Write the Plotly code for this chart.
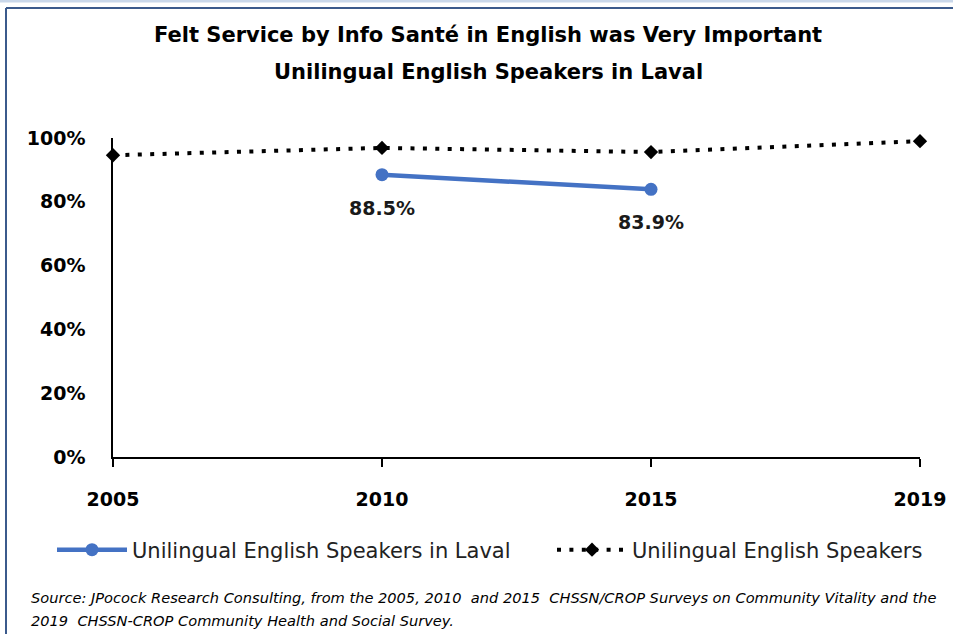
import plotly.graph_objects as go

years = ["2005", "2010", "2015", "2019"]
laval = [None, 88.5, 83.9, None]
all_speakers = [94.6, 96.9, 95.6, 99.0]
y_ticks = [0, 20, 40, 60, 80, 100]
y_tick_labels = ["0%", "20%", "40%", "60%", "80%", "100%"]

title_line1 = "Felt Service by Info Santé in English was Very Important"
title_line2 = "Unilingual English Speakers in Laval"
source_line1 = ("Source: JPocock Research Consulting, from the 2005, 2010  and 2015  CHSSN/CROP Surveys "
                "on Community Vitality and the")
source_line2 = "2019  CHSSN-CROP Community Health and Social Survey."

FONT = "DejaVu Sans"
W, H = 953, 634
L, R, T, B = 113, 33, 138, 177
PW, PH = W - L - R, H - T - B

def px_x(px):
    return (px - L) / PW

def px_y(py):
    return (H - B - py) / PH

xidx = list(range(len(years)))

fig = go.Figure()
fig.add_trace(go.Scatter(
    x=xidx, y=laval, mode="lines+markers",
    name="Unilingual English Speakers in Laval",
    line=dict(color="#4472C4", width=4.5),
    marker=dict(symbol="circle", size=13, color="#4472C4"),
    cliponaxis=False, connectgaps=False, legend="legend",
))
fig.add_trace(go.Scatter(
    x=xidx, y=all_speakers, mode="lines+markers",
    name="Unilingual English Speakers",
    line=dict(color="black", width=4, dash="4px,8.4px"),
    marker=dict(symbol="diamond", size=11, color="black"),
    cliponaxis=False, legend="legend2",
))

annotations = []
for i, v in zip(xidx, laval):
    if v is not None:
        annotations.append(dict(
            x=i, y=v, xref="x", yref="y", text=f"<b>{v:.1f}%</b>", showarrow=False,
            yshift=-33, font=dict(family=FONT, size=19, color="#1a1a1a"),
        ))

annotations += [
    dict(x=px_x(488), y=px_y(35), xref="paper", yref="paper", text=f"<b>{title_line1}</b>",
         showarrow=False, xanchor="center", yanchor="middle",
         font=dict(family=FONT, size=21, color="black")),
    dict(x=px_x(488), y=px_y(72), xref="paper", yref="paper", text=f"<b>{title_line2}</b>",
         showarrow=False, xanchor="center", yanchor="middle",
         font=dict(family=FONT, size=21, color="black")),
    dict(x=px_x(29), y=px_y(597), xref="paper", yref="paper", text=f"<i>{source_line1}</i>",
         showarrow=False, xanchor="left", yanchor="middle",
         font=dict(family=FONT, size=14.6, color="black")),
    dict(x=px_x(29), y=px_y(620), xref="paper", yref="paper", text=f"<i>{source_line2}</i>",
         showarrow=False, xanchor="left", yanchor="middle",
         font=dict(family=FONT, size=14.6, color="black")),
]

shapes = [
    dict(type="line", xref="paper", yref="paper", x0=px_x(0), x1=px_x(953),
         y0=px_y(1), y1=px_y(1), line=dict(color="#C9D7EA", width=3)),
    dict(type="line", xref="paper", yref="paper", x0=px_x(6), x1=px_x(953),
         y0=px_y(8), y1=px_y(8), line=dict(color="#3B5A8C", width=2)),
    dict(type="line", xref="paper", yref="paper", x0=px_x(6), x1=px_x(6),
         y0=px_y(8), y1=px_y(634), line=dict(color="#3B5A8C", width=2)),
]

legend_common = dict(orientation="h", xref="container", yref="container",
                     yanchor="middle", xanchor="left", itemwidth=70,
                     font=dict(family=FONT, size=21, color="#222222"),
                     bgcolor="rgba(0,0,0,0)", borderwidth=0)

fig.update_layout(
    width=W, height=H,
    margin=dict(l=L, r=R, t=T, b=B, autoexpand=False),
    paper_bgcolor="white", plot_bgcolor="white",
    font=dict(family=FONT, color="black"),
    showlegend=True,
    legend=dict(x=52 / W, y=1 - 550 / H, **legend_common),
    legend2=dict(x=552 / W, y=1 - 550 / H, **legend_common),
    annotations=annotations,
    shapes=shapes,
)
fig.update_xaxes(
    tickvals=xidx, ticktext=years,
    range=[0, 3], showgrid=False, zeroline=False,
    showline=True, linecolor="black", linewidth=2,
    ticks="outside", ticklen=8, tickwidth=2, tickcolor="black",
    tickfont=dict(family=FONT, size=19, color="black", weight="bold"),
    ticklabelstandoff=16, automargin=False,
)
fig.update_yaxes(
    range=[0, 100], tickvals=y_ticks, ticktext=y_tick_labels,
    showgrid=False, zeroline=False,
    showline=True, linecolor="black", linewidth=1.5,
    ticks="", tickfont=dict(family=FONT, size=19, color="black", weight="bold"),
    ticklabelstandoff=22, automargin=False,
)

fig.write_html(
    "out.html",
    config={"displayModeBar": False},
    post_script="document.body.style.margin='0';document.body.style.overflow='hidden';",
)
